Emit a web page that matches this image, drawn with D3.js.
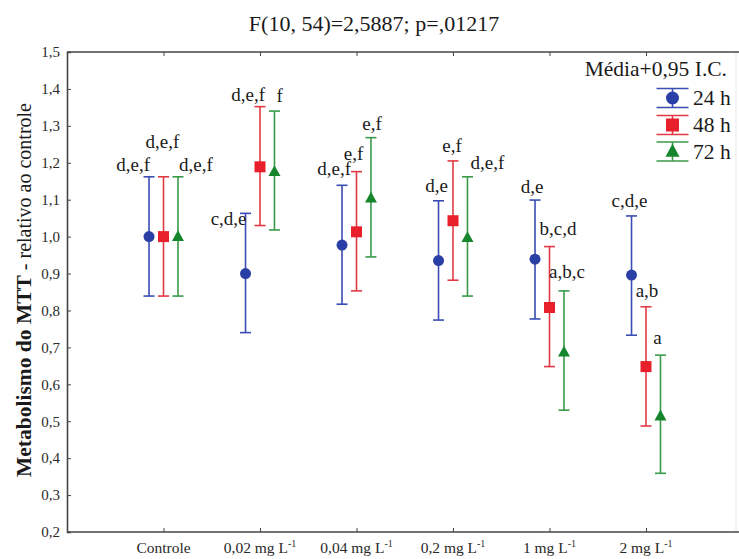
<!DOCTYPE html>
<html>
<head>
<meta charset="utf-8">
<script src="https://cdn.jsdelivr.net/npm/d3@7"></script>
<style>
  html, body { margin: 0; padding: 0; background: #fff; }
  svg { display: block; }
  svg text { font-family: "Liberation Serif", "Times New Roman", Times, serif; }
</style>
</head>
<body>
<svg id="chart" width="739" height="559"></svg>
<script>
// Treatment groups along the x axis
const categories = ["Controle", "0,02", "0,04", "0,2", "1", "2"];
const unitLabel = "mg L";

// Exposure times (series)
const seriesNames = ["24 h", "48 h", "72 h"];

// Mean MTT metabolism relative to control, with 95% CI bounds
const mean24 = [1.000, 0.900, 0.977, 0.935, 0.939, 0.896];
const low24  = [0.839, 0.740, 0.817, 0.774, 0.777, 0.733];
const high24 = [1.162, 1.063, 1.139, 1.097, 1.099, 1.056];

const mean48 = [1.000, 1.189, 1.013, 1.043, 0.808, 0.648];
const low48  = [0.839, 1.030, 0.853, 0.882, 0.648, 0.487];
const high48 = [1.162, 1.352, 1.176, 1.205, 0.973, 0.810];

const mean72 = [1.000, 1.176, 1.104, 0.997, 0.687, 0.514];
const low72  = [0.839, 1.018, 0.945, 0.839, 0.530, 0.359];
const high72 = [1.162, 1.340, 1.268, 1.162, 0.853, 0.679];

// Post-hoc grouping letters
const letters24 = ["d,e,f", "c,d,e", "d,e,f", "d,e", "d,e", "c,d,e"];
const letters48 = ["d,e,f", "d,e,f", "e,f", "e,f", "b,c,d", "a,b"];
const letters72 = ["d,e,f", "f", "e,f", "d,e,f", "a,b,c", "a"];

// Y tick values
const yTicks = [0.2, 0.3, 0.4, 0.5, 0.6, 0.7, 0.8, 0.9, 1.0, 1.1, 1.2, 1.3, 1.4, 1.5];

const titleText = "F(10, 54)=2,5887; p=,01217";
const legendTitle = "Média+0,95 I.C.";

// ---- layout / style (kept apart from the data) ----
const FONT = "'Liberation Serif', 'Times New Roman', Times, serif";
const seriesStyle = [
  { shape: "circle",   fill: "#2a3fa6", stroke: "#3b4db3" },
  { shape: "square",   fill: "#e8202b", stroke: "#e23a45" },
  { shape: "triangle", fill: "#15862e", stroke: "#3a9a4a" }
];
// letter placement: anchor, dx from mark, dy from upper whisker
const labelPlacement = [
  [["end", 1, -6], ["end", 1, 12], ["end", 9, -10], ["middle", -2, -9], ["middle", -3, -7], ["middle", -2, -9]],
  [["middle", -1, -29], ["end", 5, -6], ["middle", -3, -12], ["middle", -1, -9], ["start", -10, -12], ["middle", 1, -10]],
  [["start", 1, -6], ["start", 2, -9], ["middle", 1, -8], ["start", 3, -8], ["middle", 3, -13], ["middle", -3, -11]]
];

const svg = d3.select("#chart");
const plot = { left: 67, right: 742.5, top: 52, bottom: 532, frameRight: 736 };

const x = d3.scalePoint().domain(categories).range([plot.left, plot.right]).padding(1);
const y = d3.scaleLinear().domain([0.2, 1.5]).range([plot.bottom, plot.top]);
const seriesOffset = d3.scalePoint().domain(seriesNames).range([-0.15, 0.15]).padding(0);

const series = [
  { name: seriesNames[0], mean: mean24, low: low24, high: high24, letters: letters24 },
  { name: seriesNames[1], mean: mean48, low: low48, high: high48, letters: letters48 },
  { name: seriesNames[2], mean: mean72, low: low72, high: high72, letters: letters72 }
];

// Frame: faint right edge, then axes
svg.append("line")
  .attr("x1", plot.frameRight).attr("x2", plot.frameRight)
  .attr("y1", plot.top).attr("y2", plot.bottom)
  .attr("stroke", "#e6e6e6").attr("stroke-width", 1);

const axisColor = "#454545";

// Left axis
const yAxis = svg.append("g")
  .attr("transform", `translate(${plot.left},0)`)
  .call(d3.axisLeft(y).tickValues(yTicks).tickSize(-4).tickPadding(7)
    .tickFormat(d => d3.format(".1f")(d).replace(".", ",")));
yAxis.attr("font-family", FONT).attr("font-size", 15);
yAxis.select(".domain").attr("stroke", axisColor).attr("stroke-width", 1.6);
yAxis.selectAll(".tick line").attr("stroke", axisColor).attr("stroke-width", 1);
yAxis.selectAll(".tick text").attr("fill", "#2a2a2a");

// Bottom axis
const xAxis = svg.append("g")
  .attr("transform", `translate(0,${plot.bottom})`)
  .call(d3.axisBottom(x).tickSize(-4).tickSizeOuter(0).tickFormat(""));
xAxis.select(".domain").attr("stroke", axisColor).attr("stroke-width", 1.6)
  .attr("d", `M${plot.left},0H${plot.right}`);
xAxis.selectAll(".tick line").attr("stroke", axisColor).attr("stroke-width", 1);

// Top axis
const topAxis = svg.append("g")
  .attr("transform", `translate(0,${plot.top})`)
  .call(d3.axisTop(x).tickSize(-4).tickSizeOuter(0).tickFormat(""));
topAxis.select(".domain").attr("stroke", axisColor).attr("stroke-width", 1.6)
  .attr("d", `M${plot.left},0H${plot.right}`);
topAxis.selectAll(".tick line").attr("stroke", axisColor).attr("stroke-width", 1);

// Category labels with superscript unit exponent
categories.forEach(c => {
  const t = svg.append("text")
    .attr("x", x(c)).attr("y", 553)
    .attr("text-anchor", "middle")
    .attr("font-family", FONT)
    .attr("font-size", 15.5).attr("fill", "#2a2a2a");
  if (c === "Controle") {
    t.text(c);
  } else {
    t.append("tspan").text(`${c} ${unitLabel}`);
    t.append("tspan").attr("font-size", 10).attr("dy", -6).text("-1");
  }
});

// Title
svg.append("text")
  .attr("x", 374).attr("y", 31)
  .attr("text-anchor", "middle")
  .attr("font-family", FONT)
  .attr("font-size", 22).attr("fill", "#1a1a1a")
  .text(titleText);

// Y axis title (bold part + regular part)
const yTitle = svg.append("text")
  .attr("transform", `translate(31,290) rotate(-90)`)
  .attr("text-anchor", "middle")
  .attr("font-family", FONT).attr("fill", "#1a1a1a");
yTitle.append("tspan").attr("font-size", 21.5).attr("font-weight", "bold").text("Metabolismo do MTT");
yTitle.append("tspan").attr("font-size", 20).text(" - relativo ao controle");

// Marker drawing helper
function drawMarker(g, shape, cx, cy, fill, size) {
  if (shape === "circle") {
    g.append("circle").attr("cx", cx).attr("cy", cy).attr("r", size / 2).attr("fill", fill);
  } else if (shape === "square") {
    g.append("rect").attr("x", cx - size / 2).attr("y", cy - size / 2)
      .attr("width", size).attr("height", size).attr("fill", fill);
  } else {
    const h = size * 0.95;
    g.append("path")
      .attr("d", `M${cx},${cy - h * 0.62}L${cx + size / 2 + 0.5},${cy + h * 0.42}L${cx - size / 2 - 0.5},${cy + h * 0.42}Z`)
      .attr("fill", fill);
  }
}

const step = x.step();
const capHalf = 5.5;

// Error bars, means and letters
series.forEach((s, si) => {
  const st = seriesStyle[si];
  const g = svg.append("g").attr("class", "series");
  categories.forEach((c, ci) => {
    const cx = x(c) + seriesOffset(s.name) * step;
    const yTop = y(s.high[ci]);
    const yBot = y(s.low[ci]);
    g.append("line").attr("x1", cx).attr("x2", cx).attr("y1", yTop).attr("y2", yBot)
      .attr("stroke", st.stroke).attr("stroke-width", 1.6);
    [yTop, yBot].forEach(yy => {
      g.append("line").attr("x1", cx - capHalf).attr("x2", cx + capHalf).attr("y1", yy).attr("y2", yy)
        .attr("stroke", st.stroke).attr("stroke-width", 1.6);
    });
    drawMarker(g, st.shape, cx, y(s.mean[ci]), st.fill, 11);

    const [anchor, dx, dy] = labelPlacement[si][ci];
    g.append("text")
      .attr("x", cx + dx).attr("y", yTop + dy)
      .attr("text-anchor", anchor)
      .attr("font-family", FONT)
      .attr("font-size", 19).attr("fill", "#1a1a1a")
      .text(s.letters[ci]);
  });
});

// Legend
const legend = svg.append("g");
legend.append("text")
  .attr("x", 727).attr("y", 76)
  .attr("text-anchor", "end")
  .attr("font-family", FONT)
  .attr("font-size", 21.5).attr("fill", "#1a1a1a")
  .text(legendTitle);

const legendRows = [98, 125, 151.5];
series.forEach((s, si) => {
  const st = seriesStyle[si];
  const cy = legendRows[si];
  const lx = 672.5;
  [cy - 9.5, cy + 9.5].forEach(yy => {
    legend.append("line").attr("x1", lx - 16).attr("x2", lx + 16).attr("y1", yy).attr("y2", yy)
      .attr("stroke", st.stroke).attr("stroke-width", 1.6);
  });
  legend.append("line").attr("x1", lx).attr("x2", lx).attr("y1", cy - 9.5).attr("y2", cy + 9.5)
    .attr("stroke", st.stroke).attr("stroke-width", 1.6);
  drawMarker(legend, st.shape, lx, cy, st.fill, 13);
  legend.append("text")
    .attr("x", 693).attr("y", cy + 7)
    .attr("font-family", FONT)
    .attr("font-size", 21.5).attr("fill", "#1a1a1a")
    .text(s.name);
});
</script>
</body>
</html>
